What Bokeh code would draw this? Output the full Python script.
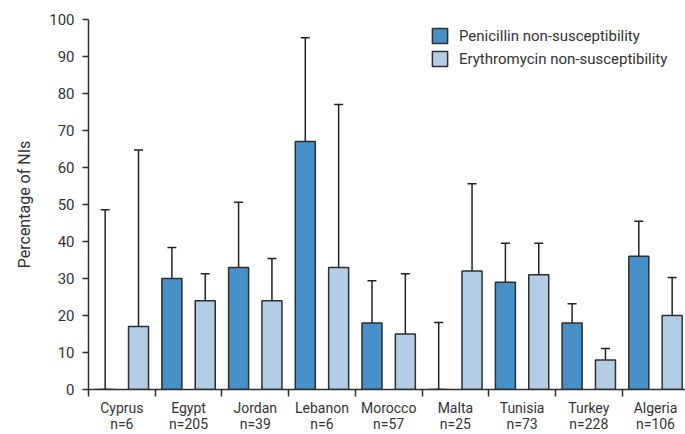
from bokeh.plotting import figure
from bokeh.models import (ColumnDataSource, Range1d, FixedTicker, Whisker, TeeHead,
                          Legend, LegendItem)
from bokeh.embed import file_html
from bokeh.resources import INLINE

countries = ["Cyprus", "Egypt", "Jordan", "Lebanon", "Morocco", "Malta", "Tunisia", "Turkey", "Algeria"]
n_values = [6, 205, 39, 6, 57, 25, 73, 228, 106]

pen = [0, 30, 33, 67, 18, 0, 29, 18, 36]
pen_lower = [0, 24.3, 20.2, 24.3, 11.1, 0, 22.2, 13.1, 27.3]
pen_upper = [48.6, 38.4, 50.6, 95.1, 29.4, 18.1, 39.5, 23.2, 45.5]

ery = [17, 24, 24, 33, 15, 32, 31, 8, 20]
ery_lower = [0.9, 18.1, 11.1, 6.1, 6.0, 15.2, 17.2, 4.0, 12.1]
ery_upper = [64.7, 31.3, 35.4, 77.0, 31.3, 55.6, 39.5, 11.1, 30.3]

y_ticks = [0, 10, 20, 30, 40, 50, 60, 70, 80, 90, 100]

FONT = "Roboto"
DARK = "#4891c8"
LIGHT = "#b3cde6"
OUT = "#2e2e2e"

idx = list(range(len(countries)))
pen_src = ColumnDataSource(dict(x=[i + 0.25 for i in idx], top=pen, lower=pen_lower, upper=pen_upper))
ery_src = ColumnDataSource(dict(x=[i + 0.75 for i in idx], top=ery, lower=ery_lower, upper=ery_upper))

p = figure(width=685, height=434, output_backend="svg", toolbar_location=None,
           x_range=Range1d(0, 8.95), y_range=Range1d(0, 100),
           min_border_left=88, min_border_right=0, min_border_top=19, min_border_bottom=0)
p.outline_line_color = None
p.grid.grid_line_color = None
p.background_fill_color = "white"

r1 = p.vbar(x="x", top="top", bottom=0, width=0.3, source=pen_src,
            fill_color=DARK, line_color=OUT, line_width=1.5)
r2 = p.vbar(x="x", top="top", bottom=0, width=0.3, source=ery_src,
            fill_color=LIGHT, line_color=OUT, line_width=1.5)

for src in (pen_src, ery_src):
    w = Whisker(source=src, base="x", upper="upper", lower="lower",
                line_color="#222222", line_width=1.5,
                upper_head=TeeHead(size=9, line_color="#222222", line_width=1.5),
                lower_head=TeeHead(size=9, line_color="#222222", line_width=1.5))
    p.add_layout(w)

# x axis: labels at category centres, ticks at category boundaries
centers = [i + 0.5 for i in idx]
bounds = [float(i) for i in range(len(countries) + 1)]
p.xaxis.ticker = FixedTicker(ticks=centers, minor_ticks=bounds)
p.xaxis.major_label_overrides = {c: f"{name}\nn={n}" for c, name, n in zip(centers, countries, n_values)}
p.xaxis.major_tick_line_color = None
p.xaxis.minor_tick_line_color = OUT
p.xaxis.minor_tick_line_width = 1.5
p.xaxis.minor_tick_out = 7
p.xaxis.minor_tick_in = 0
p.xaxis.major_label_standoff = 3

p.yaxis.ticker = FixedTicker(ticks=y_ticks)
p.yaxis.minor_tick_line_color = None
p.yaxis.major_tick_out = 6
p.yaxis.major_tick_in = 0
p.yaxis.major_tick_line_width = 1.5
p.yaxis.major_label_standoff = 8
p.yaxis.axis_label = "Percentage of NIs"
p.yaxis.axis_label_standoff = 12

for ax in (p.xaxis, p.yaxis):
    ax.axis_line_color = OUT
    ax.axis_line_width = 1.5
    ax.major_tick_line_width = 1.5
    ax.major_label_text_font = FONT
    ax.major_label_text_font_size = "15px"
    ax.major_label_text_color = "#333333"
    ax.axis_label_text_font = FONT
    ax.axis_label_text_font_size = "16px"
    ax.axis_label_text_font_style = "normal"
    ax.axis_label_text_color = "#333333"
p.yaxis.major_tick_line_color = OUT
p.xaxis.major_label_text_font_size = "14px"
p.xaxis.major_label_text_line_height = 1.0

legend = Legend(items=[LegendItem(label="Penicillin non-susceptibility", renderers=[r1]),
                       LegendItem(label="Erythromycin non-susceptibility", renderers=[r2])],
                location=(342, 321), orientation="vertical",
                glyph_width=19, glyph_height=19, label_height=19, spacing=4,
                padding=5, margin=0, label_standoff=10,
                label_text_font=FONT, label_text_font_size="15px", label_text_color="#333333",
                border_line_color=None, background_fill_alpha=0)
p.add_layout(legend)

open("out.html", "w").write(file_html(p, INLINE))
